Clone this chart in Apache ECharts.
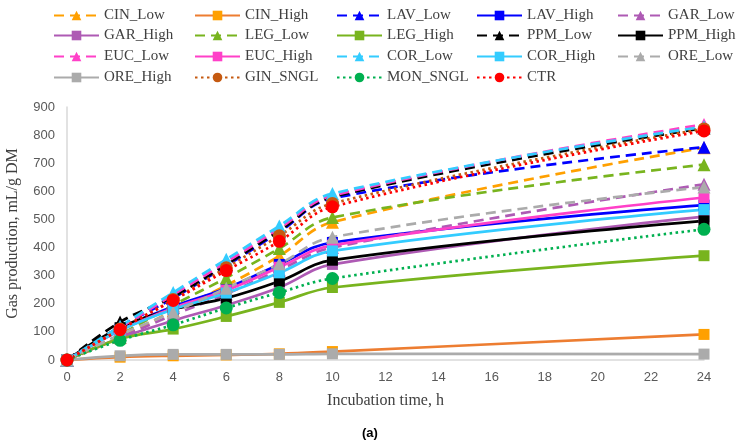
<!DOCTYPE html>
<html>
<head>
<meta charset="utf-8">
<script src="https://cdn.jsdelivr.net/npm/echarts@6/dist/echarts.min.js"></script>
<style>html,body{margin:0;padding:0;background:#fff}#c{width:742px;height:448px}</style>
</head>
<body>
<div id="c"></div>
<script>
const hours = [0, 2, 4, 6, 8, 10, 24];
const CIN_Low  = [0, 80, 175, 265, 370, 490, 755];
const CIN_High = [0, 10, 15, 18, 22, 30, 91];
const LAV_Low  = [0, 118, 220, 335, 455, 575, 757];
const LAV_High = [0, 110, 190, 255, 340, 418, 551];
const GAR_Low  = [0, 80, 160, 235, 320, 400, 625];
const GAR_High = [0, 78, 140, 195, 258, 340, 510];
const LEG_Low  = [0, 90, 195, 292, 397, 507, 695];
const LEG_High = [0, 75, 110, 155, 205, 258, 371];
const PPM_Low  = [0, 135, 225, 340, 460, 580, 825];
const PPM_High = [0, 115, 180, 220, 280, 355, 495];
const EUC_Low  = [0, 115, 232, 348, 468, 585, 838];
const EUC_High = [0, 105, 185, 248, 330, 408, 578];
const COR_Low  = [0, 120, 240, 358, 477, 592, 830];
const COR_High = [0, 105, 180, 238, 310, 388, 535];
const ORE_Low  = [0, 90, 170, 255, 342, 437, 615];
const ORE_High = [0, 15, 20, 20, 20, 22, 21];
const GIN_SNGL = [0, 110, 215, 328, 442, 557, 822];
const MON_SNGL = [0, 70, 125, 185, 240, 290, 465];
const CTR      = [0, 108, 212, 318, 422, 545, 815];

const seriesDefs = [
  ['CIN_Low', CIN_Low, 'low', '#FFA000', '#FFA000'],
  ['CIN_High', CIN_High, 'high', '#ED7D31', '#FFA000'],
  ['LAV_Low', LAV_Low, 'low', '#0000FF', '#0000FF'],
  ['LAV_High', LAV_High, 'high', '#0000FF', '#0000FF'],
  ['GAR_Low', GAR_Low, 'low', '#AE5AB4', '#AE5AB4'],
  ['GAR_High', GAR_High, 'high', '#AE5AB4', '#AE5AB4'],
  ['LEG_Low', LEG_Low, 'low', '#78B41E', '#78B41E'],
  ['LEG_High', LEG_High, 'high', '#78B41E', '#78B41E'],
  ['PPM_Low', PPM_Low, 'low', '#000000', '#000000'],
  ['PPM_High', PPM_High, 'high', '#000000', '#000000'],
  ['EUC_Low', EUC_Low, 'low', '#FF40C8', '#FF40C8'],
  ['EUC_High', EUC_High, 'high', '#FF40C8', '#FF40C8'],
  ['COR_Low', COR_Low, 'low', '#33CCFF', '#33CCFF'],
  ['COR_High', COR_High, 'high', '#33CCFF', '#33CCFF'],
  ['ORE_Low', ORE_Low, 'low', '#ABABAB', '#ABABAB'],
  ['ORE_High', ORE_High, 'high', '#ABABAB', '#ABABAB'],
  ['GIN_SNGL', GIN_SNGL, 'sngl', '#C55A11', '#C55A11'],
  ['MON_SNGL', MON_SNGL, 'sngl', '#00B050', '#00B050'],
  ['CTR', CTR, 'sngl', '#FF0000', '#FF0000']
];

const series = seriesDefs.map(([name, vals, kind, lc, mc]) => ({
  name, type: 'line', smooth: 0.4,
  data: hours.map((h, i) => [h, vals[i]]),
  symbol: kind === 'low' ? 'triangle' : kind === 'high' ? 'rect' : 'circle',
  symbolSize: kind === 'low' ? 13 : kind === 'high' ? 11 : 13,
  lineStyle: { color: lc, width: 2.7, type: kind === 'low' ? [10, 6] : kind === 'high' ? 'solid' : [2.5, 3.5] },
  itemStyle: { color: mc, borderWidth: 0 },
  emphasis: { disabled: true },
  animation: false
}));

const colX = [53, 194, 336, 476, 617];
const rowY = [15, 35, 56, 77];
const legends = seriesDefs.map((d, i) => ({
  data: [d[0]],
  left: colX[i % 5],
  top: rowY[Math.floor(i / 5)] - 7,
  padding: 0,
  itemWidth: 45, itemHeight: 12, itemGap: 0,
  textStyle: { fontFamily: 'Liberation Serif', fontSize: 15, color: '#404040' }
}));

const chart = echarts.init(document.getElementById('c'));
chart.setOption({
  animation: false,
  legend: legends,
  grid: { left: 67, right: 38, top: 107, bottom: 88, outerBoundsMode: 'none', containLabel: false },
  xAxis: {
    type: 'value', min: 0, max: 24, interval: 2,
    name: 'Incubation time, h', nameLocation: 'middle', nameGap: 33,
    nameTextStyle: { fontFamily: 'Liberation Serif', fontSize: 16, color: '#404040' },
    axisLine: { lineStyle: { color: '#D9D9D9', width: 1.5 } },
    axisTick: { show: false },
    axisLabel: { fontFamily: 'Liberation Sans', fontSize: 13, color: '#595959', margin: 11 },
    splitLine: { show: false }
  },
  yAxis: {
    type: 'value', min: 0, max: 900, interval: 100,
    name: 'Gas production, mL/g DM', nameLocation: 'middle', nameGap: 46,
    nameTextStyle: { fontFamily: 'Liberation Serif', fontSize: 16, color: '#404040' },
    axisLine: { show: true, lineStyle: { color: '#D9D9D9', width: 1.5 } },
    axisTick: { show: false },
    axisLabel: { fontFamily: 'Liberation Sans', fontSize: 13, color: '#595959', margin: 12 },
    splitLine: { show: false }
  },
  graphic: [{
    type: 'text', left: 362, top: 427,
    style: { text: '(a)', fontFamily: 'Liberation Sans', fontSize: 13, fontWeight: 'bold', fill: '#000' }
  }],
  series
});
</script>
</body>
</html>
